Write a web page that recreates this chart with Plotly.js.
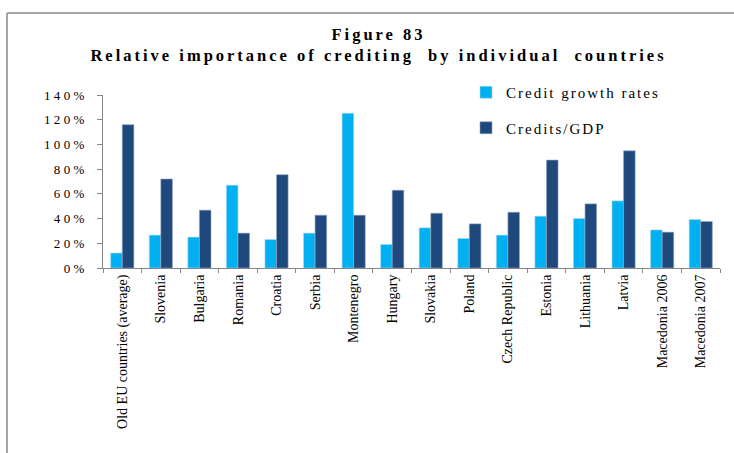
<!DOCTYPE html>
<html>
<head>
<meta charset="utf-8">
<script src="https://cdn.plot.ly/plotly-3.0.1.min.js"></script>
<style>html,body{margin:0;padding:0;background:#fff;}#chart{width:734px;height:453px;}</style>
</head>
<body>
<div id="chart"></div>
<script>
var categories = ["Old EU countries (average)", "Slovenia", "Bulgaria", "Romania", "Croatia", "Serbia",
  "Montenegro", "Hungary", "Slovakia", "Poland", "Czech Republic", "Estonia", "Lithuania", "Latvia",
  "Macedonia 2006", "Macedonia 2007"];
var creditGrowth = [12.1, 26.6, 25.0, 67.0, 23.0, 28.2, 125.2, 19.0, 32.5, 23.9, 26.6, 41.9, 40.0, 54.3, 30.8, 39.2];
var creditsGDP   = [116.0, 72.0, 46.8, 28.2, 75.5, 42.7, 42.7, 62.9, 44.3, 35.7, 45.1, 87.3, 51.9, 94.8, 29.0, 37.6];
var seriesNames = ["Credit growth rates", "Credits/GDP"];
var yTickVals = [0, 20, 40, 60, 80, 100, 120, 140];
var yTickLabels = ["0%", "20%", "40%", "60%", "80%", "100%", "120%", "140%"];
var titleLines = ["Figure 83", "Relative importance of crediting  by individual  countries"];

var W = 734, H = 453;
var m = {l: 103, r: 14, t: 95, b: 185};
var pw = W - m.l - m.r, ph = H - m.t - m.b;
function px2x(px) { return (px - m.l) / pw; }
function py2y(py) { return (H - m.b - py) / ph; }

var serif = "Liberation Serif, serif";

var traces = [
  {type: 'bar', x: categories, y: creditGrowth, name: seriesNames[0], legendgroup: 'a',
   marker: {color: '#00B0F0', line: {width: 0.6, color: '#9FD8EF'}}},
  {type: 'bar', x: categories, y: creditsGDP, name: seriesNames[1], legendgroup: 'b',
   marker: {color: '#1F497D', line: {width: 0.6, color: '#8FA3BD'}}}
];

var layout = {
  width: W, height: H,
  margin: m,
  paper_bgcolor: '#ffffff', plot_bgcolor: '#ffffff',
  font: {family: serif, color: '#000000'},
  barmode: 'group', bargap: 0.4, bargroupgap: 0,
  title: {
    text: titleLines.join('<br>'),
    font: {family: serif, size: 16.5, color: '#000000', weight: 'bold'},
    xref: 'container', x: 377 / W, xanchor: 'center',
    yref: 'container', y: 1 - 40 / H, yanchor: 'top'
  },
  xaxis: {
    type: 'category', showgrid: false, zeroline: false,
    showline: true, linecolor: '#868686', linewidth: 1,
    ticks: 'outside', tickson: 'boundaries', ticklen: 4, tickcolor: '#868686',
    tickangle: -90, tickfont: {family: serif, size: 14, color: '#000000'},
    automargin: false
  },
  yaxis: {
    range: [0, 140], showgrid: false, zeroline: false,
    showline: true, linecolor: '#868686', linewidth: 1,
    ticks: 'outside', ticklen: 5, tickcolor: '#868686',
    tickvals: yTickVals, ticktext: yTickLabels,
    tickfont: {family: serif, size: 13, color: '#000000'},
    ticklabelstandoff: 10,
    automargin: false
  },
  legend: {
    x: px2x(466), y: py2y(76), xanchor: 'left', yanchor: 'top',
    orientation: 'v', tracegroupgap: 13,
    font: {family: serif, size: 15, color: '#000000'},
    bgcolor: 'rgba(0,0,0,0)', borderwidth: 0
  },
  shapes: [
    {type: 'line', xref: 'paper', yref: 'paper', x0: px2x(7), x1: px2x(734), y0: py2y(13), y1: py2y(13),
     line: {color: '#A6A6A6', width: 2}},
    {type: 'line', xref: 'paper', yref: 'paper', x0: px2x(7), x1: px2x(7), y0: py2y(13), y1: py2y(453),
     line: {color: '#A6A6A6', width: 2}}
  ],
  showlegend: true
};

function widen(el, perChar) {
  var n = (el.textContent || '').length;
  var w = el.getComputedTextLength();
  if (!w || !n) return;
  el.setAttribute('textLength', (w + (n - 1) * perChar).toFixed(1));
  el.setAttribute('lengthAdjust', 'spacing');
}

function applySpacing() {
  var gd = document.getElementById('chart');
  var lines = gd.querySelectorAll('.gtitle tspan.line');
  if (lines.length) { lines.forEach(function (el) { widen(el, 3); }); }
  else { gd.querySelectorAll('.gtitle').forEach(function (el) { widen(el, 3); }); }
  gd.querySelectorAll('.legendtext').forEach(function (el) { widen(el, 2); });
  gd.querySelectorAll('.ytick text').forEach(function (el) { widen(el, 3.4); });
  gd.querySelectorAll('.legend [clip-path]').forEach(function (el) { el.removeAttribute('clip-path'); });
}

Plotly.newPlot('chart', traces, layout, {displayModeBar: false, staticPlot: true}).then(applySpacing);
</script>
</body>
</html>
